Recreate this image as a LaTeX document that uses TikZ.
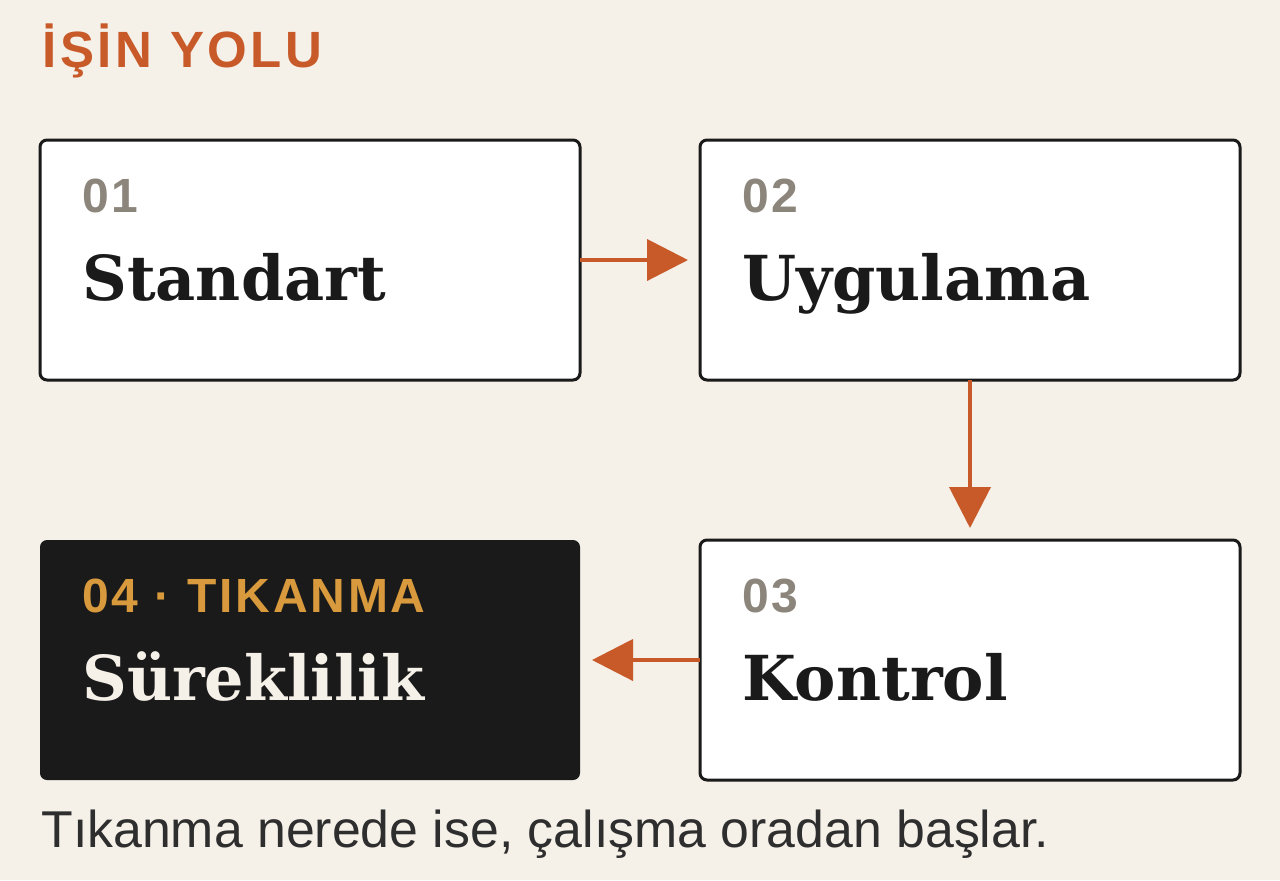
\documentclass[tikz,border=0pt]{standalone}
\usepackage{fontspec}
\setmainfont{Liberation Sans}
\newfontfamily\wordfont{DejaVu Serif}
\newfontfamily\spacedfont[LetterSpace=6]{Liberation Sans}
\newfontfamily\titlefont[LetterSpace=7]{Liberation Sans}
\usetikzlibrary{
    arrows.meta,
    calc
}
\definecolor{paper}{HTML}{F5F0E8}
\definecolor{rust}{HTML}{C85A2A}
\definecolor{ink}{HTML}{1A1A1A}
\definecolor{stone}{HTML}{8C857B}
\definecolor{gold}{HTML}{D89A3C}
\definecolor{slate}{HTML}{2E2E2E}
\tikzset {
    step box/.style = {draw = ink, line width = 1.5pt, fill = white, rounded corners = 3.5pt,
        minimum width = 270pt, minimum height = 120pt, anchor = north west,
        inner sep = 0pt, outer sep = 0pt},
    dark box/.style = {step box, draw = none, fill = ink},
    number/.style = {anchor = base west, inner sep = 0pt, text = stone,
        font = \spacedfont\bfseries\fontsize{24}{28}\selectfont},
    word/.style = {anchor = base west, inner sep = 0pt, text = ink,
        font = \wordfont\bfseries\fontsize{31}{36}\selectfont},
    flow/.style = {draw = rust, line width = 2pt, shorten > = 6pt,
        arrows = {-Triangle[length = 20.5pt, width = 20.5pt]}}
}
\begin{document}
\begin{tikzpicture}[x = 0.5pt, y = -0.5pt]
    \fill [paper] (0, 0) rectangle (1280, 880);
    \useasboundingbox (0, 0) rectangle (1280, 880);
    \node (title) [anchor = base west, inner sep = 0pt, text = rust,
        font = \titlefont\bfseries\fontsize{25.5}{30}\selectfont] at (42, 67) {İŞİN YOLU};
    % steps
    \node (s1) [step box] at (40, 140) {};
    \node (s2) [step box] at (700, 140) {};
    \node (s3) [step box] at (700, 540) {};
    \node (s4) [dark box] at (40, 540) {};
    \node (n1) [number] at (82, 212) {01};
    \node (w1) [word] at (82, 300) {Standart};
    \node (n2) [number] at (742, 212) {02};
    \node (w2) [word] at (742, 300) {Uygulama};
    \node (n3) [number] at (742, 612) {03};
    \node (w3) [word] at (742, 700) {Kontrol};
    \node (n4) [number, text = gold] at (82, 612) {04 · TIKANMA};
    \node (w4) [word, text = paper] at (82, 700) {Süreklilik};
    % arrows
    \draw [flow] (s1.east) -- (s2.west);
    \draw [flow] (s2.south) -- (s3.north);
    \draw [flow] (s3.west) -- (s4.east);
    \node (note) [anchor = base west, inner sep = 0pt, text = slate,
        font = \fontsize{25.9}{30}\selectfont] at (41, 847) {Tıkanma nerede ise, çalışma oradan başlar.};
\end{tikzpicture}
\end{document}
